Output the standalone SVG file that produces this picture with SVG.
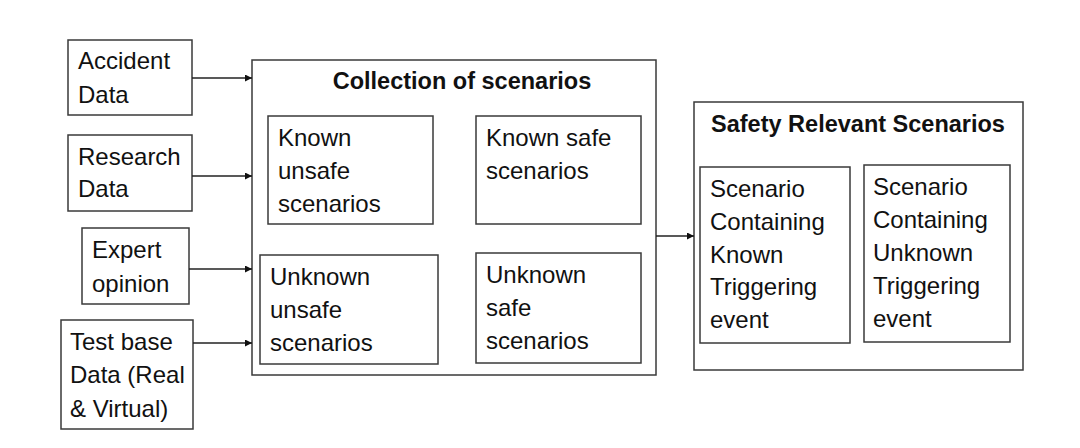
<svg xmlns="http://www.w3.org/2000/svg" width="1080" height="448" viewBox="0 0 1080 448">
<style>
  .box{fill:#fff;stroke:#3a3a3a;stroke-width:1.5}
  .t{font-family:"Liberation Sans",Arial,sans-serif;font-size:24px;fill:#111}
  .h{font-family:"Liberation Sans",Arial,sans-serif;font-size:23.5px;font-weight:bold;fill:#111;text-anchor:middle}
  .c{stroke:#222;stroke-width:1.5;fill:none}
</style>
<defs>
  <marker id="ah" viewBox="0 0 10 10" refX="10" refY="5" markerWidth="8" markerHeight="7" markerUnits="userSpaceOnUse" orient="auto">
    <path d="M0,0 L10,5 L0,10 z" fill="#111"/>
  </marker>
</defs>
<rect width="1080" height="448" fill="#fff"/>
<g id="accident">
  <rect class="box" x="68" y="40" width="124" height="75"/>
  <text class="t" x="78" y="69">Accident</text>
  <text class="t" x="78" y="103">Data</text>
</g>
<g id="research">
  <rect class="box" x="68" y="135" width="124" height="76"/>
  <text class="t" x="78" y="165">Research</text>
  <text class="t" x="78" y="197">Data</text>
</g>
<g id="expert">
  <rect class="box" x="82" y="228" width="107" height="76"/>
  <text class="t" x="92" y="258">Expert</text>
  <text class="t" x="92" y="292">opinion</text>
</g>
<g id="testbase">
  <rect class="box" x="61" y="320" width="132" height="109"/>
  <text class="t" x="70" y="350">Test base</text>
  <text class="t" x="70" y="383">Data (Real</text>
  <text class="t" x="70" y="417">&amp; Virtual)</text>
</g>
<g id="collection">
  <rect class="box" x="252" y="60" width="404" height="315"/>
  <text class="h" x="462" y="89">Collection of scenarios</text>
</g>
<g id="known-unsafe">
  <rect class="box" x="268" y="116" width="165" height="108"/>
  <text class="t" x="278" y="146">Known</text>
  <text class="t" x="278" y="179">unsafe</text>
  <text class="t" x="278" y="212">scenarios</text>
</g>
<g id="known-safe">
  <rect class="box" x="476" y="116" width="165" height="108"/>
  <text class="t" x="486" y="146">Known safe</text>
  <text class="t" x="486" y="179">scenarios</text>
</g>
<g id="unknown-unsafe">
  <rect class="box" x="260" y="255" width="178" height="109"/>
  <text class="t" x="270" y="285">Unknown</text>
  <text class="t" x="270" y="318">unsafe</text>
  <text class="t" x="270" y="351">scenarios</text>
</g>
<g id="unknown-safe">
  <rect class="box" x="476" y="253" width="165" height="110"/>
  <text class="t" x="486" y="283">Unknown</text>
  <text class="t" x="486" y="316">safe</text>
  <text class="t" x="486" y="349">scenarios</text>
</g>
<g id="safety">
  <rect class="box" x="694" y="102" width="329" height="268"/>
  <text class="h" x="858" y="132">Safety Relevant Scenarios</text>
</g>
<g id="known-trigger">
  <rect class="box" x="700" y="167" width="150" height="176"/>
  <text class="t" x="710" y="197">Scenario</text>
  <text class="t" x="710" y="230">Containing</text>
  <text class="t" x="710" y="263">Known</text>
  <text class="t" x="710" y="295">Triggering</text>
  <text class="t" x="710" y="328">event</text>
</g>
<g id="unknown-trigger">
  <rect class="box" x="864" y="165" width="146" height="177"/>
  <text class="t" x="873" y="195">Scenario</text>
  <text class="t" x="873" y="228">Containing</text>
  <text class="t" x="873" y="261">Unknown</text>
  <text class="t" x="873" y="294">Triggering</text>
  <text class="t" x="873" y="327">event</text>
</g>
<g id="connectors">
  <line class="c" x1="192" y1="78" x2="252" y2="78" marker-end="url(#ah)"/>
  <line class="c" x1="192" y1="176" x2="252" y2="176" marker-end="url(#ah)"/>
  <line class="c" x1="189" y1="269" x2="252" y2="269" marker-end="url(#ah)"/>
  <line class="c" x1="193" y1="343" x2="252" y2="343" marker-end="url(#ah)"/>
  <line class="c" x1="656" y1="236" x2="694" y2="236" marker-end="url(#ah)"/>
</g>
</svg>
